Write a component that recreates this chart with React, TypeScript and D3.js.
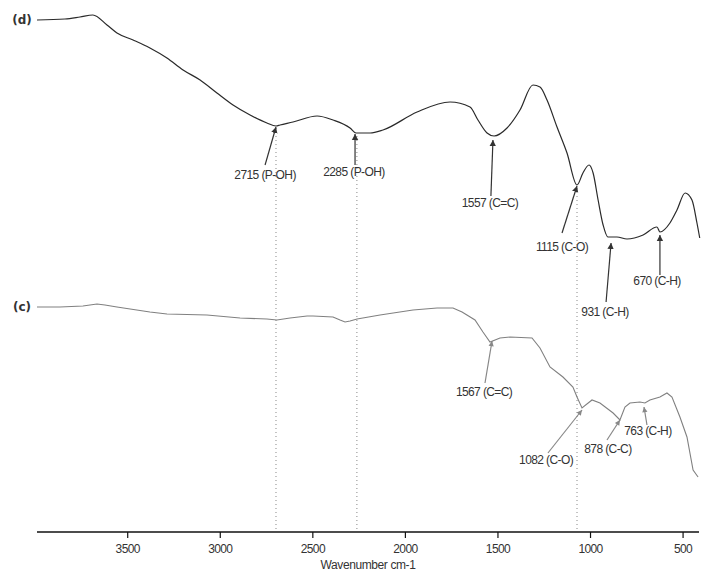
import React from 'react';
import * as d3 from 'd3';

// spectrum (d) - wavenumber (cm-1) and transmittance (arbitrary units)
const waveD = [3990, 3839, 3758, 3688, 3612, 3558, 3471, 3380, 3288, 3201, 3109, 3018, 2931, 2839, 2748, 2699, 2677, 2607, 2477, 2391, 2299, 2267, 2191, 2121, 1937, 1759, 1651, 1608, 1559, 1521, 1451, 1381, 1311, 1273, 1235, 1181, 1127, 1073, 1041, 1008, 986, 959, 932, 906, 857, 803, 716, 641, 625, 571, 533, 489, 452, 425, 410];
const valD = [512, 513, 515, 517, 507, 499, 492, 484, 474, 462, 452, 439, 427, 417, 409, 406, 407, 410, 416, 412, 404, 399, 399, 402, 420, 430, 425, 412, 399, 396, 404, 422, 447, 445, 432, 405, 379, 347, 359, 367, 359, 332, 307, 295, 295, 293, 297, 305, 300, 309, 322, 339, 332, 309, 294];

// spectrum (c)
const waveC = [3990, 3866, 3742, 3666, 3623, 3558, 3380, 3288, 3072, 2893, 2748, 2694, 2623, 2531, 2499, 2391, 2353, 2326, 2299, 2261, 2137, 1959, 1829, 1743, 1694, 1624, 1581, 1543, 1489, 1435, 1316, 1273, 1219, 1149, 1095, 1073, 1046, 992, 949, 878, 841, 814, 787, 733, 706, 679, 625, 587, 560, 517, 479, 446, 419];
const valC = [225, 225, 226, 228, 227, 225, 220, 218, 217, 214, 213, 212, 214, 216, 216, 215, 212, 210, 211, 213, 217, 222, 224, 224, 220, 212, 200, 190, 194, 195, 194, 184, 165, 155, 145, 135, 124, 132, 129, 119, 112, 125, 129, 130, 129, 132, 135, 139, 135, 115, 95, 62, 55];

const xTicks = [3500, 3000, 2500, 2000, 1500, 1000, 500];

// peak annotations: tip (wave, value), tail (wave, value), label position
const peaksD = [
  { label: '2715 (P-OH)', tw: 2699, tv: 405, sw: 2758, sv: 367, lw: 2758, lv: 357 },
  { label: '2285 (P-OH)', tw: 2272, tv: 398, sw: 2272, sv: 367, lw: 2278, lv: 360 },
  { label: '1557 (C=C)', tw: 1527, tv: 392, sw: 1538, sv: 336, lw: 1543, lv: 329 },
  { label: '1115 (C-O)', tw: 1073, tv: 346, sw: 1154, sv: 299, lw: 1154, lv: 285 },
  { label: '931 (C-H)', tw: 889, tv: 289, sw: 916, sv: 230, lw: 922, lv: 220 },
  { label: '670 (C-H)', tw: 625, tv: 297, sw: 625, sv: 257, lw: 641, lv: 251 },
];
const peaksC = [
  { label: '1567 (C=C)', tw: 1532, tv: 191, sw: 1570, sv: 149, lw: 1575, lv: 140 },
  { label: '1082 (C-O)', tw: 1046, tv: 122, sw: 1230, sv: 79, lw: 1240, lv: 72 },
  { label: '878 (C-C)', tw: 841, tv: 112, sw: 911, sv: 92, lw: 906, lv: 83 },
  { label: '763 (C-H)', tw: 711, tv: 125, sw: 695, sv: 107, lw: 690, lv: 101 },
];

// dotted guide lines: wavenumber and starting value
const guideWave = [2699, 2262, 1073];
const guideTop = [404, 396, 344];

const W = 701;
const H = 572;

export default function App() {
  const x = d3.scaleLinear().domain([3990, 414]).range([37, 699]);
  const y = d3.scaleLinear().domain([0, 532]).range([532, 0]);

  const lineD = d3.line<number>()
    .x((_, i) => x(waveD[i]))
    .y((d) => y(d))
    .curve(d3.curveMonotoneX);
  const lineC = d3.line<number>()
    .x((_, i) => x(waveC[i]))
    .y((d) => y(d))
    .curve(d3.curveLinear);

  const font = "'Liberation Sans', Arial, sans-serif";

  const renderPeaks = (peaks: typeof peaksD, color: string, marker: string) =>
    peaks.map((p) => (
      <g key={p.label}>
        <line
          x1={x(p.sw)} y1={y(p.sv)} x2={x(p.tw)} y2={y(p.tv)}
          stroke={color} strokeWidth={1.2} markerEnd={`url(#${marker})`}
        />
        <text
          x={x(p.lw)} y={y(p.lv)} dy="0.35em" textAnchor="middle"
          fontSize={12} fill="#333" fontFamily={font} letterSpacing={-0.6}
        >
          {p.label}
        </text>
      </g>
    ));

  return (
    <svg width={W} height={H} style={{ position: 'absolute', left: 0, top: 0, background: '#fff' }}>
      <defs>
        <marker id="arrD" viewBox="0 0 6 8" refX={6} refY={4} markerWidth={6} markerHeight={8}
          markerUnits="userSpaceOnUse" orient="auto">
          <path d="M0,0.8 L6,4 L0,7.2 Z" fill="#333" />
        </marker>
        <marker id="arrC" viewBox="0 0 6 8" refX={6} refY={4} markerWidth={6} markerHeight={7}
          markerUnits="userSpaceOnUse" orient="auto">
          <path d="M0,1 L6,4 L0,7 Z" fill="#888" />
        </marker>
      </defs>

      {guideWave.map((w, i) => (
        <line key={w} x1={x(w)} x2={x(w)} y1={y(guideTop[i])} y2={y(0)}
          stroke="#888" strokeWidth={1} strokeDasharray="1,3" />
      ))}

      <path d={lineD(valD) || ''} fill="none" stroke="#2a2a2a" strokeWidth={1.2} />
      <path d={lineC(valC) || ''} fill="none" stroke="#808080" strokeWidth={1.1} />

      {renderPeaks(peaksD, '#333', 'arrD')}
      {renderPeaks(peaksC, '#888', 'arrC')}

      <text x={22} y={y(valD[0])} dy="0.35em" textAnchor="middle" fontSize={12}
        fontWeight="bold" fill="#333" fontFamily="'DejaVu Sans', sans-serif">(d)</text>
      <text x={22} y={y(valC[0])} dy="0.35em" textAnchor="middle" fontSize={12}
        fontWeight="bold" fill="#333" fontFamily="'DejaVu Sans', sans-serif">(c)</text>

      <line x1={x.range()[0]} x2={x.range()[1]} y1={y(0)} y2={y(0)} stroke="#111" strokeWidth={1.5} />
      {xTicks.map((t) => (
        <g key={t} transform={`translate(${x(t)},${y(0)})`}>
          <line y1={0} y2={6} stroke="#111" strokeWidth={1.2} />
          <text y={17} dy="0.35em" textAnchor="middle" fontSize={12} fill="#333"
            fontFamily={font} letterSpacing={-0.6}>{t}</text>
        </g>
      ))}
      <text x={(x.range()[0] + x.range()[1]) / 2} y={y(0) + 33} dy="0.35em" textAnchor="middle"
        fontSize={12} fill="#333" fontFamily={font} letterSpacing={-0.4}>Wavenumber cm-1</text>
    </svg>
  );
}
